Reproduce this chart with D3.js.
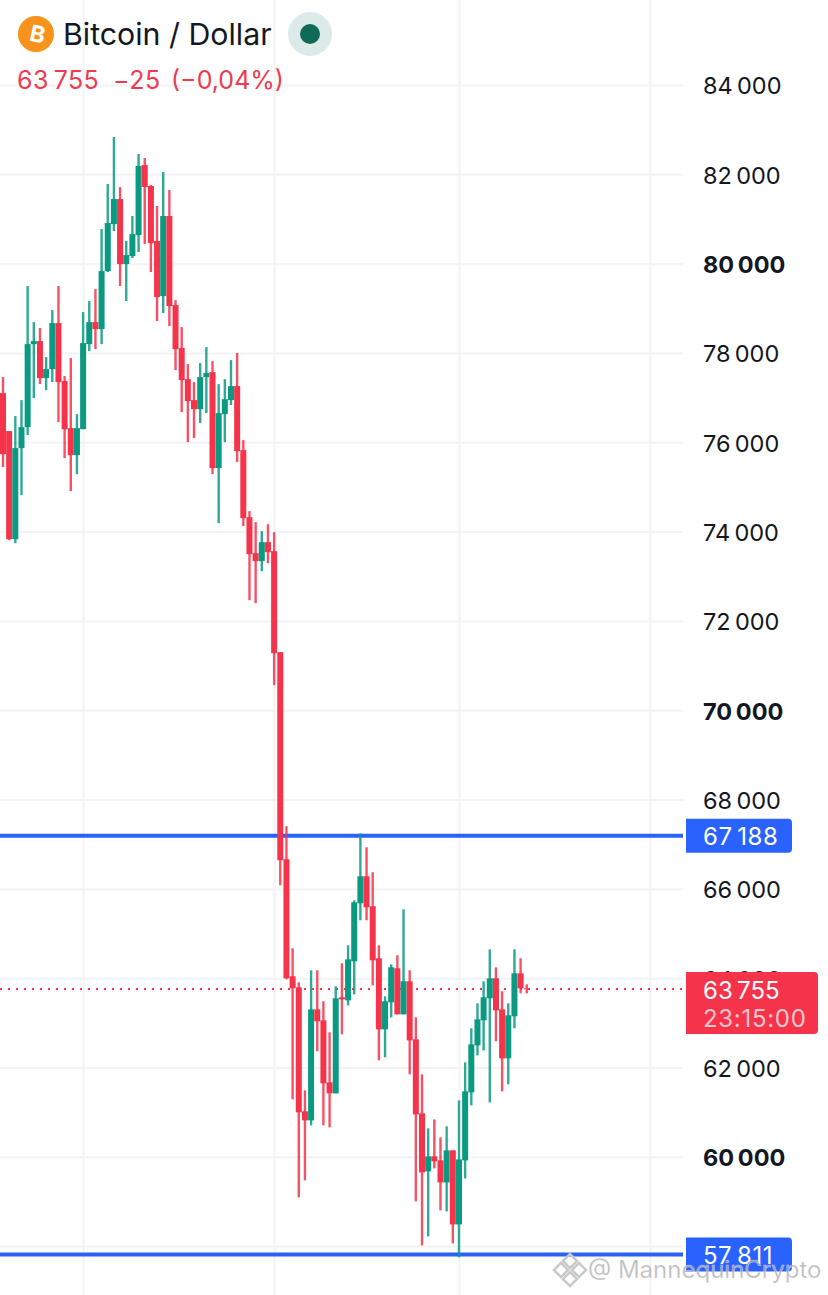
<!DOCTYPE html>
<html>
<head>
<meta charset="utf-8">
<script src="https://cdn.jsdelivr.net/npm/d3@7"></script>
<style>
  html, body { margin: 0; background: #fff; }
  svg { display: block; }
  text { font-family: Inter, "Noto Sans", sans-serif; }
</style>
</head>
<body>
<div id="chart"></div>
<script>
// Candle values, one entry per candle
const opens = [77101,76250,73830,75869,76339,78198,78266,77437,77638,78669,77370,76317,75712,76294,78198,78691,78534,79834,80886,81446,
  79990,80170,80640,82208,81738,80506,79274,81066,79072,78109,77414,76944,76742,77459,77571,75421,76630,76944,77258,75824,
  74323,73517,73338,73763,73562,71299,66662,64042,63795,61018,60816,63302,63056,61667,61421,63571,63504,64378,65677,66282,
  65610,64445,62854,63459,64221,63190,63930,62630,60973,59674,60010,59920,59427,60144,58486,59920,61443,62496,63056,63549,
  63997,63302,62205,63146,64109,63773];
const highs = [77459,76250,76586,76944,79498,78691,78557,77907,78960,79498,77482,77885,76630,78915,79162,79430,80774,81782,82835,81715,
  80506,81066,82454,82365,81760,81290,82051,81648,79184,78579,77750,77347,77773,78131,77818,77302,77414,77840,77997,76048,
  74458,74211,74010,74166,73987,71299,67402,64669,63907,61488,64176,64176,63482,62787,63818,64333,64736,65744,67245,66931,
  66371,64736,63594,64310,64512,65542,64176,63123,61846,60637,60838,60435,60682,60144,61264,62115,62877,63437,63930,64646,
  64243,63706,63437,64646,64445,63862];
const lows = [75443,73808,73741,74816,76160,76989,77302,77168,77347,76451,75645,74906,75286,76294,78042,78086,78198,79811,80730,79498,
  79162,80125,80259,80438,79811,78714,78893,78602,77616,76675,76003,76093,76429,76653,75286,74189,76003,76832,75555,74122,
  72464,72397,73114,73293,70560,66080,63974,61286,59091,59472,60704,62362,60704,60659,61421,62742,63392,63638,65296,65296,
  63840,62160,62227,63123,63190,63190,61846,59002,58016,58218,59741,58800,58778,58061,57750,59517,61152,62272,62384,61219,
  62586,61466,61622,62877,63661,63661];
const closes = [75734,73830,75869,76339,78198,78266,77437,77638,78669,77347,76294,75712,76317,78221,78691,78534,79834,80909,81446,79990,
  80192,80662,82186,81715,80461,79251,81066,79050,78086,77392,76922,76742,77459,77549,75421,76653,76966,77258,75802,74301,
  73494,73338,73763,73539,71277,66640,63997,63773,60995,60816,63302,63034,61645,61421,63549,63526,64422,65699,66282,65587,
  64400,62854,63482,64243,63190,63930,62608,60950,59651,60010,59898,59427,60144,58486,59942,61466,62518,63078,63571,63997,
  63280,62205,63168,64109,63773,63755];

const priceTicks = [58000,60000,62000,64000,66000,68000,70000,72000,74000,76000,78000,80000,82000,84000];
const boldTicks = [60000,70000,80000];
const timeTicks = [13,44,74,105];   // month boundaries, as candle index
const levels = [67188,57811];
const lastPrice = 63755;

const width = 828, height = 1295, plotRight = 683;
const upColor = '#0a9a81', downColor = '#f5344b', levelColor = '#2962ff';

const svg = d3.select('#chart').append('svg')
  .attr('width', width)
  .attr('height', height);

const x = d3.scaleLinear().domain([0, 105]).range([3, 650]);
const y = d3.scaleLinear().domain([60000, 84000]).range([1156.8, 85]);

// thousands separated by a thin space
const fmt = v => String(v).replace(/(\d)(\d{3})$/, '$1\u2009$2');

// Grid and axis labels
const xAxis = svg.append('g')
  .call(d3.axisBottom(x).tickValues(timeTicks).tickSize(height).tickFormat(''));
xAxis.select('.domain').remove();
xAxis.selectAll('line').attr('stroke', '#f3f3f4').attr('stroke-width', 2);

const yAxis = svg.append('g')
  .call(d3.axisRight(y).tickValues(priceTicks).tickSize(plotRight).tickPadding(20).tickFormat(fmt));
yAxis.select('.domain').remove();
yAxis.selectAll('line').attr('stroke', '#f3f3f4').attr('stroke-width', 2);
yAxis.selectAll('text')
  .attr('fill', '#131722')
  .attr('dy', '0.38em')
  .style('font-size', '23.5px')
  .style('font-family', 'Inter, "Noto Sans", sans-serif')
  .style('font-weight', d => boldTicks.includes(d) ? 700 : 400);

// Last price dotted line
svg.append('line')
  .attr('x1', 0).attr('x2', plotRight)
  .attr('y1', y(lastPrice)).attr('y2', y(lastPrice))
  .attr('stroke', downColor)
  .attr('stroke-width', 2)
  .attr('stroke-dasharray', '2 6');

// Horizontal levels
svg.selectAll('.level')
  .data(levels)
  .enter().append('line')
  .attr('class', 'level')
  .attr('x1', 0).attr('x2', plotRight)
  .attr('y1', d => y(d)).attr('y2', d => y(d))
  .attr('stroke', levelColor)
  .attr('stroke-width', 4);

// Candles
const candleColor = i => closes[i] >= opens[i] ? upColor : downColor;

svg.selectAll('.wick')
  .data(opens)
  .enter().append('line')
  .attr('class', 'wick')
  .attr('x1', (d, i) => x(i)).attr('x2', (d, i) => x(i))
  .attr('y1', (d, i) => y(highs[i])).attr('y2', (d, i) => y(lows[i]))
  .attr('stroke', (d, i) => candleColor(i))
  .attr('stroke-opacity', 0.85)
  .attr('stroke-width', 2.4);

svg.selectAll('.body')
  .data(opens)
  .enter().append('rect')
  .attr('class', 'body')
  .attr('x', (d, i) => x(i) - 3)
  .attr('width', 6)
  .attr('y', (d, i) => y(Math.max(opens[i], closes[i])))
  .attr('height', (d, i) => Math.max(1, Math.abs(y(opens[i]) - y(closes[i]))))
  .attr('fill', (d, i) => candleColor(i));

// Price tags on the right, square on the left and rounded on the right
function tagPath(x0, x1, y0, y1, r) {
  return `M${x0},${y0}H${x1 - r}Q${x1},${y0} ${x1},${y0 + r}V${y1 - r}Q${x1},${y1} ${x1 - r},${y1}H${x0}Z`;
}

levels.forEach(level => {
  const yp = y(level);
  svg.append('path')
    .attr('d', tagPath(686, 792, yp - 17, yp + 17, 4))
    .attr('fill', levelColor);
  svg.append('text')
    .attr('x', 703).attr('y', yp + 9)
    .attr('fill', '#fff')
    .attr('letter-spacing', 0.5)
    .style('font-size', '24px')
    .text(fmt(level));
});

const lastY = y(lastPrice);
svg.append('path')
  .attr('d', tagPath(686, 818, lastY - 17, lastY + 45, 4))
  .attr('fill', downColor);
svg.append('text')
  .attr('x', 703).attr('y', lastY + 10)
  .attr('fill', '#fff')
  .style('font-size', '24px')
  .text(fmt(lastPrice));
svg.append('text')
  .attr('x', 703).attr('y', lastY + 38)
  .attr('fill', '#fff')
  .attr('fill-opacity', 0.72)
  .attr('letter-spacing', 0.7)
  .style('font-size', '24px')
  .text('23:15:00');

// Header
svg.append('circle').attr('cx', 36).attr('cy', 34).attr('r', 18).attr('fill', '#f7931a');
svg.append('text')
  .attr('transform', 'translate(36,42) rotate(12)')
  .attr('text-anchor', 'middle')
  .attr('fill', '#fff')
  .style('font-size', '23px')
  .style('font-weight', 700)
  .text('B');
svg.append('text')
  .attr('x', 63).attr('y', 45)
  .attr('fill', '#131722')
  .style('font-size', '30.3px')
  .text('Bitcoin / Dollar');
svg.append('circle').attr('cx', 310).attr('cy', 34).attr('r', 22).attr('fill', '#dcebea');
svg.append('circle').attr('cx', 310).attr('cy', 34).attr('r', 10).attr('fill', '#0f6a58');

const headerRed = '#ee3b50';
[[17, fmt(lastPrice), 0.4], [113, '\u221225', 0.5], [171, '(\u22120,04%)', 0]].forEach(([tx, label, spacing]) => {
  svg.append('text')
    .attr('x', tx).attr('y', 89)
    .attr('fill', headerRed)
    .attr('letter-spacing', spacing)
    .style('font-size', '25px')
    .text(label);
});

// Watermark
const mark = svg.append('g')
  .attr('transform', 'translate(570,1270)')
  .attr('fill', 'none')
  .attr('stroke', '#c9c9c9')
  .attr('stroke-width', 2.5);
[[0, -9, 5], [-9, 0, 5], [9, 0, 5], [0, 9, 5]].forEach(([dx, dy, s]) => {
  mark.append('rect')
    .attr('x', -s).attr('y', -s)
    .attr('width', 2 * s).attr('height', 2 * s)
    .attr('transform', `translate(${dx},${dy}) rotate(45)`);
});
svg.append('text')
  .attr('x', 588).attr('y', 1278)
  .attr('fill', '#a8a8a8')
  .attr('fill-opacity', 0.8)
  .attr('stroke', '#fff')
  .attr('stroke-opacity', 0.5)
  .attr('stroke-width', 0.6)
  .style('font-size', '24px')
  .text('@ MannequinCrypto');
</script>
</body>
</html>
